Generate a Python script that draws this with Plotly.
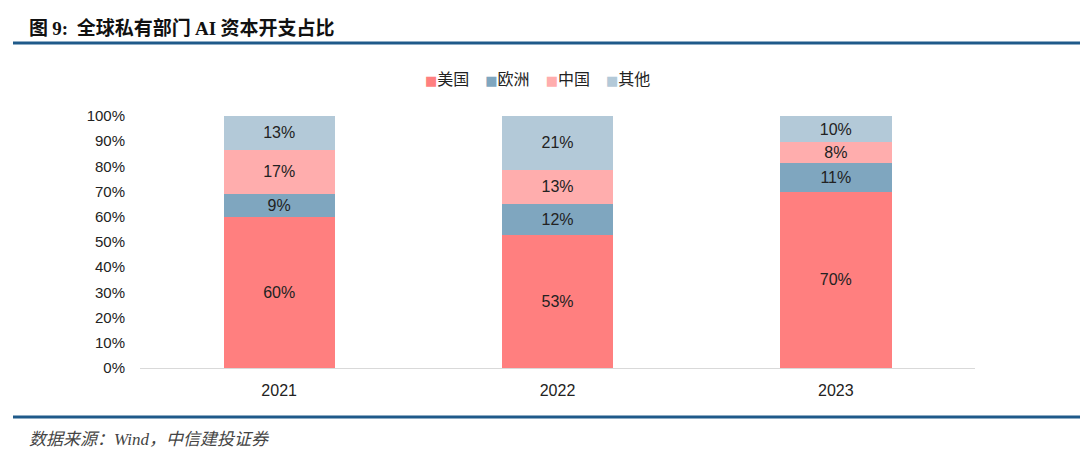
import plotly.graph_objects as go

years = ["2021", "2022", "2023"]
series_names = ["美国", "欧洲", "中国", "其他"]
us = [59.8, 52.9, 69.9]
europe = [9.4, 12.3, 11.3]
china = [17.4, 13.4, 8.4]
other = [13.4, 21.4, 10.4]
y_ticks = [0, 10, 20, 30, 40, 50, 60, 70, 80, 90, 100]

colors = ["#FF7F7F", "#7FA6BF", "#FFADAD", "#B3C9D8"]
W, H = 1080, 457
L, R, T, B = 140, 105, 116, 89
pw, ph = W - L - R, H - T - B

def px(x):
    return (x - L) / pw

def py(y):
    return (H - B - y) / ph

fig = go.Figure()
for name, vals, c in zip(series_names, [us, europe, china, other], colors):
    fig.add_trace(go.Bar(
        x=years, y=vals, name=name, marker=dict(color=c, line=dict(width=0)),
        text=[f"{round(v):.0f}%" for v in vals], textposition="inside",
        insidetextanchor="middle", textangle=0, constraintext="none",
        textfont=dict(family="Liberation Sans, Arial", size=16, color="#222222"),
        hoverinfo="skip", showlegend=False,
    ))

fig.update_layout(
    width=W, height=H, barmode="stack", bargap=0.6,
    margin=dict(l=L, r=R, t=T, b=B),
    paper_bgcolor="white", plot_bgcolor="white",
    font=dict(family="Liberation Sans, Noto Sans CJK SC", color="#222222"),
    showlegend=False,
    xaxis=dict(showline=True, linecolor="#D9D9D9", linewidth=1, ticks="",
               tickfont=dict(family="Liberation Sans, Arial", size=16, color="#222222"),
               ticklabelstandoff=8, showgrid=False, fixedrange=True),
    yaxis=dict(range=[0, 100], tickvals=y_ticks, ticktext=[f"{t}%" for t in y_ticks],
               showgrid=False, showline=False, zeroline=False, ticks="",
               tickfont=dict(family="Liberation Sans, Arial", size=15, color="#222222"),
               ticklabelstandoff=14, fixedrange=True),
)

# legend drawn as one line of text built from the series names and colours
sep = "\u2002\u2002"
legend_text = sep.join(
    f"<span style='color:{c};font-family:DejaVu Sans;font-size:13px'>■</span>{n}"
    for n, c in zip(series_names, colors)
)
fig.add_annotation(xref="paper", yref="paper", x=px(537), y=py(78), xanchor="center", yanchor="middle",
                   showarrow=False, text=legend_text,
                   font=dict(family="Noto Sans CJK SC", size=16, color="#222222"))

fig.add_shape(type="line", xref="paper", yref="paper", x0=px(13), x1=px(1080),
              y0=py(43), y1=py(43), line=dict(color="#1F5A8A", width=3))
fig.add_shape(type="line", xref="paper", yref="paper", x0=px(13), x1=px(1080),
              y0=py(417), y1=py(417), line=dict(color="#1F5A8A", width=3))

fig.add_annotation(xref="paper", yref="paper", x=px(27), y=py(27), xanchor="left", yanchor="middle",
                   showarrow=False,
                   text="<b>图 <span style='font-family:Liberation Serif'>9:</span>  全球私有部门 <span style='font-family:Liberation Serif'>AI</span> 资本开支占比</b>",
                   font=dict(family="Noto Sans CJK SC", size=19, color="#111111"))
fig.add_annotation(xref="paper", yref="paper", x=px(27), y=py(437), xanchor="left", yanchor="middle",
                   showarrow=False,
                   text="<i>数据来源：<span style='font-family:Liberation Serif'>Wind</span>，中信建投证券</i>",
                   font=dict(family="Noto Sans CJK SC", size=17, color="#444444"))

fig.write_html("out.html", config={"displayModeBar": False},
               post_script="document.body.style.margin='0';document.body.style.overflow='hidden';")
